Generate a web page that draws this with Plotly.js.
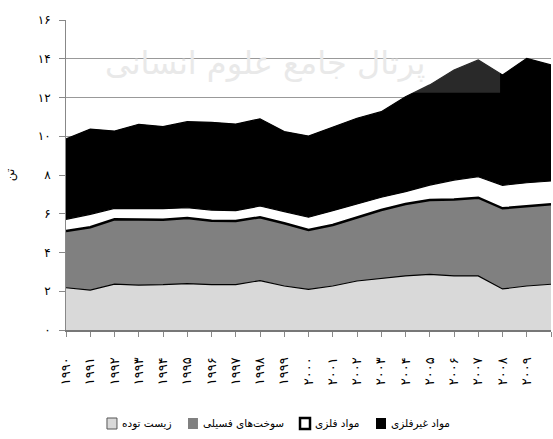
<!DOCTYPE html>
<html>
<head>
<meta charset="utf-8">
<script src="https://cdn.plot.ly/plotly-3.0.1.min.js"></script>
<style>html,body{margin:0;padding:0;background:#fff;}#chart{width:553px;height:439px;}</style>
</head>
<body>
<div id="chart"></div>
<script>
var years = [1990,1991,1992,1993,1994,1995,1996,1997,1998,1999,2000,2001,2002,2003,2004,2005,2006,2007,2008,2009,2010];
var yearLabels = ['۱۹۹۰','۱۹۹۱','۱۹۹۲','۱۹۹۳','۱۹۹۴','۱۹۹۵','۱۹۹۶','۱۹۹۷','۱۹۹۸','۱۹۹۹','۲۰۰۰','۲۰۰۱','۲۰۰۲','۲۰۰۳','۲۰۰۴','۲۰۰۵','۲۰۰۶','۲۰۰۷','۲۰۰۸','۲۰۰۹','۲۰۱۰'];
var biomass   = [2.18,2.06,2.37,2.32,2.34,2.39,2.34,2.34,2.55,2.27,2.10,2.27,2.53,2.65,2.79,2.87,2.79,2.79,2.12,2.27,2.36];
var fossil    = [2.93,3.24,3.34,3.37,3.35,3.39,3.30,3.29,3.27,3.24,3.06,3.15,3.29,3.54,3.71,3.84,3.95,4.04,4.16,4.13,4.13];
var metal     = [0.60,0.67,0.57,0.59,0.57,0.53,0.55,0.53,0.58,0.60,0.66,0.74,0.68,0.66,0.64,0.77,1.00,1.08,1.19,1.20,1.20];
var nonmetal  = [4.15,4.40,3.99,4.34,4.24,4.44,4.53,4.47,4.50,4.13,4.19,4.33,4.43,4.42,4.90,5.17,5.68,6.03,5.69,6.42,5.99];
var seriesNames = ['زیست توده','سوخت‌های فسیلی','مواد فلزی','مواد غیرفلزی'];
var yTickVals = [0,2,4,6,8,10,12,14,16];
var yTickText = ['۰','۲','۴','۶','۸','۱۰','۱۲','۱۴','۱۶'];
var yTitle = 'تن';
var watermark = 'پرتال جامع علوم انسانی';

var fills = ['#d9d9d9','#808080','#ffffff','#000000'];
var lineW = [1.2,2.5,1.2,1.2];
var data = [biomass,fossil,metal,nonmetal];
var traces = [];
for (var i=0;i<4;i++){
  traces.push({x:years,y:data[i],type:'scatter',mode:'lines',stackgroup:'one',name:seriesNames[i],
    fillcolor:fills[i],line:{color:'#000',width:lineW[i]},showlegend:false,hoverinfo:'skip'});
}

// legend drawn as key boxes + labels (positions in paper coordinates)
var keyX = [0.0845,0.2515,0.4825,0.6392];
var keyW = 0.0206;
var keyBorder = ['#555','#808080','#000','#000'];
var keyBorderW = [1,0,2.5,0];
var keyY0 = -0.2839, keyY1 = -0.3194;
var shapes = [];
var annotations = [];
for (var k=0;k<4;k++){
  shapes.push({type:'rect',xref:'paper',yref:'paper',x0:keyX[k],x1:keyX[k]+keyW,y0:keyY1,y1:keyY0,
    fillcolor:fills[k],line:{color:keyBorder[k],width:keyBorderW[k]}});
  annotations.push({text:seriesNames[k],xref:'paper',yref:'paper',x:keyX[k]+keyW+0.006,y:(keyY0+keyY1)/2,
    xanchor:'left',yanchor:'middle',showarrow:false,font:{size:10.5,family:'DejaVu Sans',color:'#000'}});
}
shapes.push({type:'rect',xref:'paper',yref:'paper',x0:0.647,x1:0.895,y0:0.765,y1:1.0,
  fillcolor:'rgba(255,255,255,0.16)',line:{width:0},layer:'above'});
annotations.push({text:watermark,xref:'paper',yref:'paper',x:0.41,y:0.93,showarrow:false,
  font:{size:32,color:'#e9e9e9',family:'DejaVu Sans'}});

var layout = {
  width:553,height:439,
  margin:{l:66,r:2,t:20,b:109},
  paper_bgcolor:'#fff',plot_bgcolor:'#fff',
  font:{family:'DejaVu Sans',size:11,color:'#000'},
  showlegend:false,
  xaxis:{range:[1990,2010],tickmode:'array',tickvals:years,ticktext:yearLabels,tickangle:-90,
    ticks:'outside',ticklen:5,tickcolor:'#888',showgrid:false,zeroline:false,
    showline:true,linecolor:'#777',linewidth:2,ticklabelstandoff:15,
    tickfont:{size:13}},
  yaxis:{range:[0,16],tickmode:'array',tickvals:yTickVals,ticktext:yTickText,
    ticks:'outside',ticklen:6,tickcolor:'#888',showgrid:true,gridcolor:'#999',gridwidth:1,
    zeroline:false,showline:true,linecolor:'#888',linewidth:1,ticklabelstandoff:6,
    tickfont:{size:12},
    title:{text:yTitle,font:{size:12},standoff:20}},
  shapes:shapes,
  annotations:annotations
};
Plotly.newPlot('chart',traces,layout,{displayModeBar:false,staticPlot:true});
</script>
</body>
</html>
